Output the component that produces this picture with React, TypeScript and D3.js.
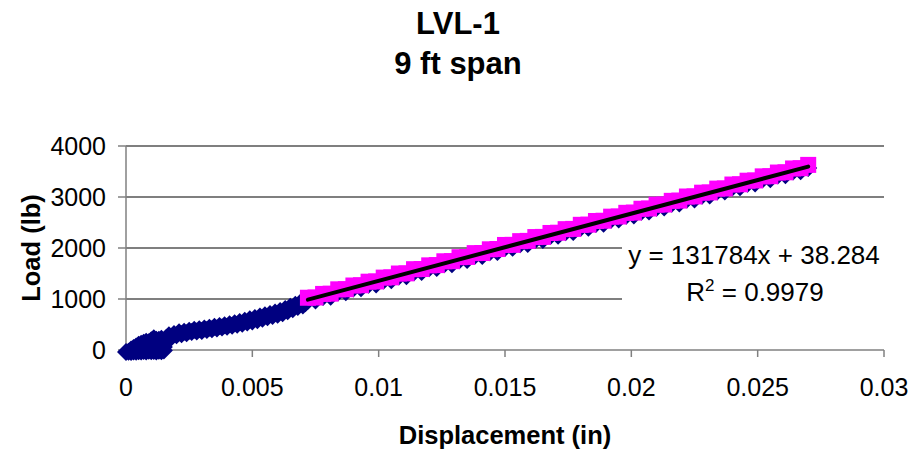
import React from "react";
import * as d3 from "d3";

const titleLines = ["LVL-1", "9 ft span"];
const xTicks = [0, 0.005, 0.01, 0.015, 0.02, 0.025, 0.03];
const xTickLabels = ["0", "0.005", "0.01", "0.015", "0.02", "0.025", "0.03"];
const yTicks = [0, 1000, 2000, 3000, 4000];
const yTickLabels = ["0", "1000", "2000", "3000", "4000"];

// All data (blue diamonds)
const displacement = [
  0, 0.0001, 0.0002, 0.0003, 0.0004, 0.0005, 0.0006, 0.0007, 0.0008, 0.0009, 0.001, 0.0011, 0.0012, 0.0013, 0.0014, 0.0015,
  0.0002, 0.0003, 0.0004, 0.0005, 0.0006, 0.0007, 0.0008, 0.0009, 0.001, 0.0011, 0.0012, 0.0013, 0.0014, 0.0015, 0.0014, 0.0016,
  0.0008, 0.0010, 0.0012, 0.0006, 0.0011, 0.0013,
  0.0016, 0.0017, 0.0018, 0.0019, 0.002, 0.0021, 0.0022, 0.0023, 0.0024, 0.0025, 0.0026, 0.0027, 0.0028, 0.0029, 0.003,
  0.0031, 0.0032, 0.0033, 0.0034, 0.0035, 0.0036, 0.0037, 0.0038, 0.0039, 0.004, 0.0041, 0.0042, 0.0043, 0.0044, 0.0045,
  0.0046, 0.0047, 0.0048, 0.0049, 0.005, 0.0051, 0.0052, 0.0053, 0.0054, 0.0055, 0.0056, 0.0057, 0.0058, 0.0059, 0.006,
  0.0061, 0.0062, 0.0063, 0.0064, 0.0065, 0.0066, 0.0067, 0.0068, 0.0069, 0.007, 0.0071,
  0.0072, 0.0075, 0.0078, 0.0081, 0.0084, 0.0087, 0.009, 0.0093, 0.0096, 0.0099, 0.0102, 0.0105, 0.0108, 0.0111,
  0.0114, 0.0117, 0.012, 0.0123, 0.0126, 0.0129, 0.0132, 0.0135, 0.0138, 0.0141, 0.0144, 0.0147, 0.015, 0.0153,
  0.0156, 0.0159, 0.0162, 0.0165, 0.0168, 0.0171, 0.0174, 0.0177, 0.018, 0.0183, 0.0186, 0.0189, 0.0192, 0.0195,
  0.0198, 0.0201, 0.0204, 0.0207, 0.021, 0.0213, 0.0216, 0.0219, 0.0222, 0.0225, 0.0228, 0.0231, 0.0234, 0.0237,
  0.024, 0.0243, 0.0246, 0.0249, 0.0252, 0.0255, 0.0258, 0.0261, 0.0264, 0.0267, 0.027,
];
const load = [
  0, 5, 0, 10, 5, 15, 10, 20, 10, 25, 15, 20, 10, 25, 15, 30,
  50, 80, 110, 140, 160, 180, 200, 190, 230, 210, 240, 200, 150, 100, 260, 280,
  120, 150, 90, 80, 270, 240,
  250, 330, 290, 355, 330, 385, 350, 395, 370, 415, 390, 435, 400, 445, 410,
  460, 430, 475, 445, 495, 460, 510, 480, 525, 495, 545, 515, 565, 535, 590,
  555, 615, 580, 640, 600, 665, 625, 695, 650, 720, 680, 745, 705, 775, 730,
  805, 760, 845, 800, 885, 840, 925, 880, 965, 910, 955,
  1005, 1010, 1080, 1085, 1170, 1172, 1245, 1250, 1320, 1325, 1400, 1405, 1480, 1483,
  1565, 1568, 1640, 1645, 1720, 1722, 1800, 1805, 1880, 1882, 1955, 1960, 2040, 2042,
  2115, 2120, 2195, 2198, 2275, 2280, 2350, 2355, 2435, 2438, 2510, 2515, 2595, 2598,
  2670, 2675, 2750, 2755, 2830, 2833, 2905, 2910, 2990, 2992, 3065, 3070, 3145, 3148,
  3225, 3230, 3300, 3305, 3385, 3388, 3460, 3465, 3540, 3545, 3610, 3640,
];

const fitStart = 0.0072;
const slope = 131784;
const intercept = 38.284;
const equationText = "y = 131784x + 38.284";
const r2Value = "0.9979";

const W = 916;
const H = 454;
const FONT = "'Liberation Sans', Arial, Helvetica, sans-serif";

export default function App() {
  const x = d3.scaleLinear().domain([0, 0.03]).range([126, 884]);
  const y = d3.scaleLinear().domain([0, 4000]).range([350, 146]);

  const all = displacement.map((d, i) => ({ x: d, y: load[i] }));
  const fitPts = all.filter((p) => p.x >= fitStart);
  const fx0 = d3.min(fitPts, (p) => p.x) as number;
  const fx1 = d3.max(fitPts, (p) => p.x) as number;

  const dHalf = 9;
  const diamond = `M0,${-dHalf}L${dHalf},0L0,${dHalf}L${-dHalf},0Z`;
  const sq = 16;

  const gridColor = "#555";
  const axisColor = "#808080";

  return (
    <svg
      width={W}
      height={H}
      style={{ position: "absolute", left: 0, top: 0, background: "#fff" }}
      fontFamily={FONT}
    >
      <rect x={0} y={0} width={W} height={H} fill="#fff" />
      {/* title */}
      <text x={458} y={34} textAnchor="middle" fontSize={31} fontWeight="bold">
        {titleLines[0]}
      </text>
      <text x={458} y={74} textAnchor="middle" fontSize={31} fontWeight="bold">
        {titleLines[1]}
      </text>

      {/* gridlines */}
      {yTicks.filter((t) => t > 0).map((t) => (
        <line key={"g" + t} x1={x(0)} x2={x(0.03)} y1={y(t)} y2={y(t)} stroke={gridColor} strokeWidth={1.3} />
      ))}

      {/* axes */}
      <line x1={x(0)} x2={x(0)} y1={y(0)} y2={y(4000)} stroke={axisColor} strokeWidth={1.5} />
      <line x1={x(0)} x2={x(0.03)} y1={y(0)} y2={y(0)} stroke={axisColor} strokeWidth={1.5} />
      {yTicks.map((t, i) => (
        <g key={"yt" + t}>
          <line x1={x(0) - 8} x2={x(0)} y1={y(t)} y2={y(t)} stroke={axisColor} strokeWidth={1.5} />
          <text x={106} y={y(t)} dy="0.35em" textAnchor="end" fontSize={25}>
            {yTickLabels[i]}
          </text>
        </g>
      ))}
      {xTicks.map((t, i) => (
        <g key={"xt" + t}>
          <line x1={x(t)} x2={x(t)} y1={y(0)} y2={y(0) + 7} stroke={axisColor} strokeWidth={1.5} />
          <text x={x(t)} y={396} textAnchor="middle" fontSize={25}>
            {xTickLabels[i]}
          </text>
        </g>
      ))}

      {/* blue diamonds */}
      {all.map((p, i) => (
        <path key={"b" + i} d={diamond} transform={`translate(${x(p.x)},${y(p.y) + 2})`} fill="#000080" />
      ))}
      {/* pink squares */}
      {fitPts.map((p, i) => (
        <rect key={"p" + i} x={x(p.x) - sq / 2} y={y(p.y) - sq / 2 - 1} width={sq} height={sq} fill="#FF00FF" />
      ))}

      {/* trendline */}
      <line
        x1={x(fx0)}
        y1={y(slope * fx0 + intercept)}
        x2={x(fx1)}
        y2={y(slope * fx1 + intercept)}
        stroke="#000"
        strokeWidth={4}
        strokeLinecap="round"
      />

      {/* equation label */}
      <rect x={622} y={236} width={262} height={76} fill="#fff" />
      <text x={754} y={264} textAnchor="middle" fontSize={26}>
        {equationText}
      </text>
      <text x={755} y={301} textAnchor="middle" fontSize={26}>
        R<tspan dy={-10} fontSize={17}>2</tspan>
        <tspan dy={10}>{" = " + r2Value}</tspan>
      </text>

      {/* axis titles */}
      <text x={505} y={444} textAnchor="middle" fontSize={25.5} fontWeight="bold">
        Displacement (in)
      </text>
      <text transform="translate(40,248) rotate(-90)" textAnchor="middle" fontSize={25.5} fontWeight="bold">
        Load (lb)
      </text>
    </svg>
  );
}
